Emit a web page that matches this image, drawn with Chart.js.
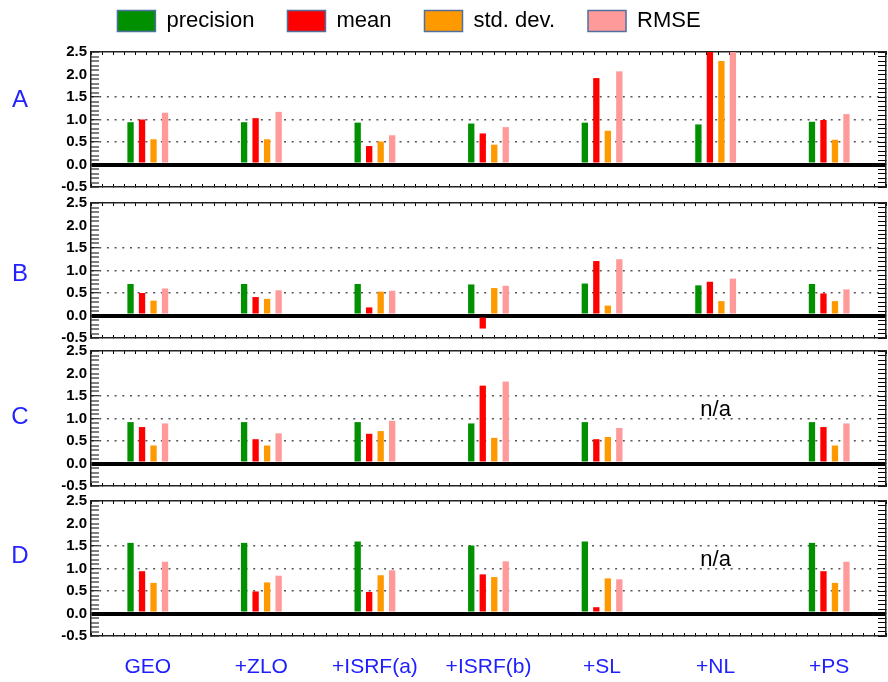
<!DOCTYPE html>
<html>
<head>
<meta charset="utf-8">
<script src="https://cdn.jsdelivr.net/npm/chart.js@4/dist/chart.umd.min.js"></script>
<style>
  body { margin: 0; background: #fff; width: 888px; height: 682px; position: relative; overflow: hidden; }
  .panel { position: absolute; }
</style>
</head>
<body>
<div class="panel" style="left:-70px;top:0;width:958px;height:209px"><canvas id="panelA"></canvas></div>
<div class="panel" style="left:0;top:181px;width:888px;height:179px"><canvas id="panelB"></canvas></div>
<div class="panel" style="left:0;top:329px;width:888px;height:179px"><canvas id="panelC"></canvas></div>
<div class="panel" style="left:0;top:479px;width:888px;height:203px"><canvas id="panelD"></canvas></div>
<script>
const categories = ['GEO', '+ZLO', '+ISRF(a)', '+ISRF(b)', '+SL', '+NL', '+PS'];
const seriesNames = ['precision', 'mean', 'std. dev.', 'RMSE'];
const seriesColors = ['#009000', '#ff0000', '#ff9900', '#ff9a9a'];
const panelLetters = ['A', 'B', 'C', 'D'];
const letterLevels = [1.43, 0.92, 1.03, 1.28];

// panel A
const precisionA = [0.94, 0.94, 0.93, 0.91, 0.93, 0.89, 0.95];
const meanA      = [1.00, 1.03, 0.41, 0.69, 1.92, 2.80, 0.99];
const stdA       = [0.56, 0.56, 0.51, 0.44, 0.75, 2.30, 0.55];
const rmseA      = [1.15, 1.17, 0.65, 0.83, 2.07, 2.90, 1.12];
// panel B
const precisionB = [0.70, 0.70, 0.70, 0.69, 0.71, 0.67, 0.70];
const meanB      = [0.50, 0.41, 0.18, -0.29, 1.21, 0.75, 0.49];
const stdB       = [0.33, 0.37, 0.53, 0.61, 0.22, 0.32, 0.32];
const rmseB      = [0.60, 0.56, 0.55, 0.66, 1.25, 0.82, 0.58];
// panel C (no +NL result)
const precisionC = [0.92, 0.92, 0.92, 0.89, 0.92, null, 0.92];
const meanC      = [0.81, 0.54, 0.66, 1.73, 0.54, null, 0.81];
const stdC       = [0.40, 0.40, 0.72, 0.57, 0.59, null, 0.40];
const rmseC      = [0.89, 0.67, 0.95, 1.82, 0.79, null, 0.89];
// panel D (no +NL result)
const precisionD = [1.57, 1.57, 1.60, 1.51, 1.60, null, 1.57];
const meanD      = [0.94, 0.49, 0.48, 0.87, 0.14, null, 0.94];
const stdD       = [0.68, 0.69, 0.85, 0.81, 0.78, null, 0.68];
const rmseD      = [1.15, 0.84, 0.96, 1.16, 0.76, null, 1.15];

const FONT = '"Liberation Sans", Arial, Helvetica, sans-serif';
Chart.defaults.font.family = FONT;

const isZero = v => Math.abs(v) < 1e-6;
const isHalf = v => Math.abs(v * 2 - Math.round(v * 2)) < 1e-6;
const isGrid = v => isHalf(v) && v > 0.25 && v < 1.75;

// panel letter on the left and the "n/a" notes
const panelText = {
  id: 'panelText',
  afterDraw(chart, args, o) {
    const ctx = chart.ctx, x = chart.scales.x, y = chart.scales.y;
    ctx.save();
    ctx.textAlign = 'center';
    ctx.textBaseline = 'middle';
    ctx.fillStyle = '#2222ff';
    ctx.font = '24px ' + FONT;
    ctx.fillText(o.letter, chart.chartArea.left - 71, y.getPixelForValue(o.level));
    ctx.fillStyle = '#000';
    ctx.font = '22px ' + FONT;
    (o.na || []).forEach(i => ctx.fillText('n/a', x.getPixelForValue(i), y.getPixelForValue(1.2)));
    ctx.restore();
  }
};

function frameAxis(position, min, max, tick, size) {
  return {
    type: 'linear', position: position, min: min, max: max, weight: 0,
    ticks: { display: false, stepSize: 0.1 },
    grid: { drawOnChartArea: false, tickLength: -tick, tickColor: '#000', tickWidth: 1, lineWidth: 1 },
    border: { color: '#222', width: 1.5 },
    afterFit: s => { if (s.isHorizontal()) s.height = size; else s.width = size; }
  };
}

function drawPanel(id, n, series, opts) {
  return new Chart(document.getElementById(id), {
    type: 'bar',
    data: {
      labels: categories,
      datasets: series.map((d, i) => ({
        label: seriesNames[i],
        data: d,
        backgroundColor: seriesColors[i],
        borderWidth: 0,
        xAxisID: 'x',
        yAxisID: 'y',
        categoryPercentage: 0.405,
        barPercentage: 0.55
      }))
    },
    options: {
      responsive: true,
      maintainAspectRatio: false,
      animation: false,
      layout: { padding: { top: opts.legend ? -23 : 0, left: 0, right: 0, bottom: 0 } },
      plugins: {
        tooltip: { enabled: false },
        legend: {
          display: !!opts.legend,
          position: 'top',
          labels: {
            boxWidth: 38, boxHeight: 21, padding: 33, color: '#000',
            font: { size: 22 },
            generateLabels: chart => Chart.defaults.plugins.legend.labels.generateLabels(chart)
              .map(l => Object.assign(l, { strokeStyle: '#4f6f9f', lineWidth: 1.5 }))
          }
        },
        panelText: { letter: panelLetters[n], level: letterLevels[n], na: opts.na }
      },
      scales: {
        xb: frameAxis('bottom', -0.5, 6.5, 3, opts.labels ? 10 : 22),
        xt: frameAxis('top', -0.5, 6.5, 3, opts.legend ? 10 : 22),
        x: {
          type: 'category',
          position: 'bottom',
          weight: 1,
          display: !!opts.labels,
          grid: { display: false, drawTicks: false },
          border: { display: false },
          ticks: { color: '#2020ff', font: { size: 21 }, padding: 9, maxRotation: 0, autoSkip: false },
          afterFit: s => { s.height = opts.labels ? 36 : 0; }
        },
        y: {
          type: 'linear',
          position: 'left',
          min: -0.5,
          max: 2.5,
          ticks: {
            stepSize: 0.1,
            autoSkip: false,
            padding: 12,
            color: '#000',
            font: { size: 15, weight: 'bold' },
            callback: v => isZero(v) ? '0.0' : (isHalf(v) ? v.toFixed(1) : '')
          },
          grid: {
            tickLength: -8,
            tickColor: '#000',
            tickWidth: 1,
            color: c => (c.tick && isZero(c.tick.value)) ? '#000' : '#555',
            lineWidth: c => !c.tick ? 1 : isZero(c.tick.value) ? 4 : (isGrid(c.tick.value) ? 1.5 : 0)
          },
          border: {
            color: '#222',
            width: 1.5,
            dash: c => (c.tick && isGrid(c.tick.value)) ? [2, 5.7] : []
          },
          afterFit: s => { s.width = opts.axisWidth; }
        },
        yr: frameAxis('right', -0.5, 2.5, 8, 2)
      }
    },
    plugins: [panelText]
  });
}

drawPanel('panelA', 0, [precisionA, meanA, stdA, rmseA], { legend: true, axisWidth: 161 });
drawPanel('panelB', 1, [precisionB, meanB, stdB, rmseB], { axisWidth: 91 });
drawPanel('panelC', 2, [precisionC, meanC, stdC, rmseC], { axisWidth: 91, na: [5] });
drawPanel('panelD', 3, [precisionD, meanD, stdD, rmseD], { axisWidth: 91, na: [5], labels: true });
</script>
</body>
</html>
